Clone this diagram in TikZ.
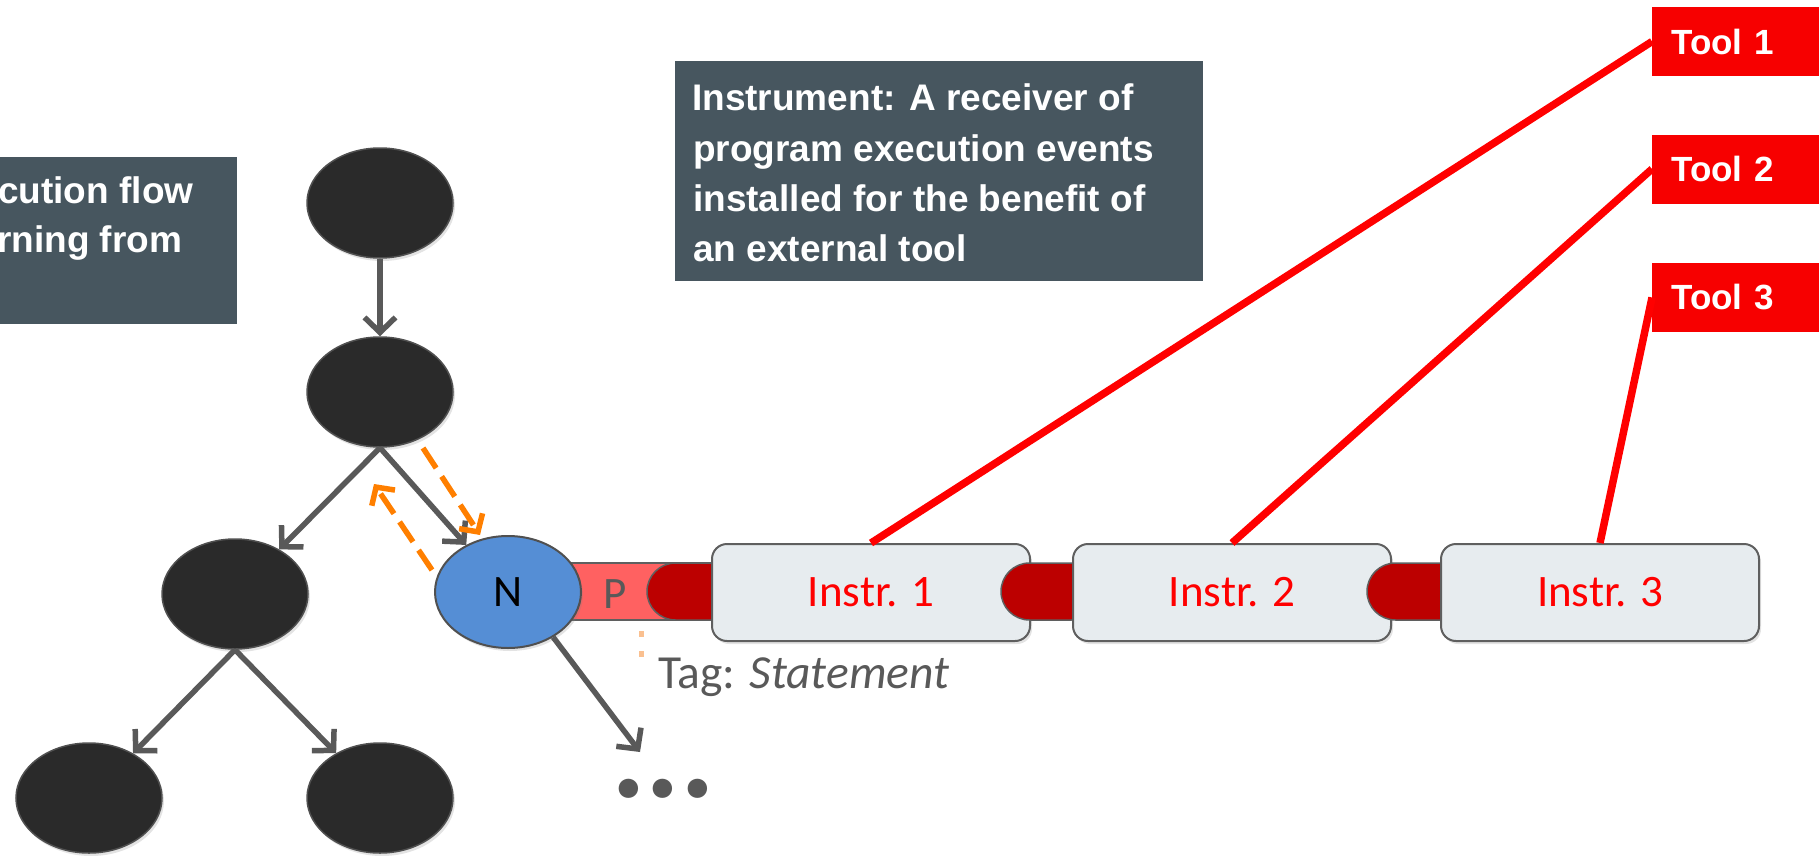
\documentclass[tikz,border=0pt]{standalone}
\usepackage{fontspec}
\setmainfont{Carlito}
\newfontfamily\arialfont{Liberation Sans}
\usetikzlibrary{arrows.meta,shapes.geometric,shadows}
\definecolor{slate}{HTML}{47565F}
\definecolor{nodeblack}{HTML}{2A2A2A}
\definecolor{edgegray}{HTML}{505050}
\definecolor{arrowgray}{HTML}{595959}
\definecolor{orangeA}{HTML}{FF7F00}
\definecolor{orangeL}{HTML}{FAC090}
\definecolor{nblue}{HTML}{558ED5}
\definecolor{pinkbar}{HTML}{FF6161}
\definecolor{plugred}{HTML}{BC0000}
\definecolor{instrfill}{HTML}{E7ECEF}
\definecolor{boxedge}{HTML}{5F5F5F}
\definecolor{toolred}{HTML}{F70000}
\definecolor{linered}{HTML}{FF0000}
\begin{document}
\begin{tikzpicture}[x=1pt,y=-1pt,
  shad/.style={drop shadow={opacity=0.22, shadow xshift=2pt, shadow yshift=-3pt}},
  blk/.style={ellipse, fill=nodeblack, draw=edgegray, line width=1.5pt,
    minimum width=146pt, minimum height=110pt, inner sep=0pt, shad},
  garrow/.style={draw=arrowgray, line width=5.5pt, -{Straight Barb[length=15pt,width=31pt]}},
  oarrow/.style={draw=orangeA, line width=5.5pt, dash pattern=on 24pt off 10pt,
    -{Straight Barb[length=13pt,width=28pt]}},
  darkbox/.style={rectangle, fill=slate, draw=none, inner sep=0pt},
  boxtext/.style={anchor=base west, inner sep=0pt, text=white,
    font=\arialfont\bfseries\fontsize{37}{44}\selectfont},
  toolbox/.style={rectangle, fill=toolred, draw=none, anchor=west,
    minimum height=69pt, text width=129pt, inner xsep=19pt, inner ysep=0pt, align=left,
    text=white, font=\arialfont\bfseries\fontsize{35}{40}\selectfont},
  toolline/.style={draw=linered, line width=7.5pt},
  instr/.style={rectangle, rounded corners=15pt, fill=instrfill, draw=boxedge,
    line width=2pt, minimum width=318pt, minimum height=97pt, inner sep=0pt,
    text=linered, font=\fontsize{45}{54}\selectfont, shad},
  plug/.style={rectangle, rounded corners=28.5pt, fill=plugred, draw=boxedge,
    line width=1.5pt, minimum height=57pt, inner sep=0pt},
  calibri/.style={inner sep=0pt, font=\fontsize{45}{54}\selectfont}
]
\useasboundingbox (0,0) rectangle (1819,856);

% left text box (cut off at the left edge)
\node[darkbox, minimum width=250pt, minimum height=167pt] (lbox) at (112,240.5) {};
\node[boxtext] (l1) at (-2,203) {cution flow};
\node[boxtext] (l2) at (-3,252) {rning from};

% instrument text box
\node[darkbox, minimum width=528pt, minimum height=220pt] (ibox) at (939,171) {};
\node[boxtext] (i1t) at (692,111) {Instrument: A receiver of};
\node[boxtext] (i2t) at (693,161) {program execution events};
\node[boxtext] (i3t) at (693,211) {installed for the benefit of};
\node[boxtext] (i4t) at (693,261) {an external tool};

% tool boxes
\node[toolbox] (t1) at (1652,41.5) {Tool 1};
\node[toolbox] (t2) at (1652,169) {Tool 2};
\node[toolbox] (t3) at (1652,297.5) {Tool 3};

% tree of nodes
\node[blk] (e1) at (380,203) {};
\node[blk] (e2) at (380,392) {};
\node[blk] (e3) at (235,594) {};
\node[blk] (e4) at (89,798) {};
\node[blk] (e5) at (380,798) {};

% pink bar, N, plugs and instruments
\node[rectangle, fill=pinkbar, draw=boxedge, line width=1.5pt, minimum width=165pt,
  minimum height=57pt, inner sep=0pt] (pbar) at (637.5,591.5) {};
\node[calibri, text=arrowgray] (ptext) at (615,594) {P};
\node[ellipse, fill=nblue, draw=edgegray, line width=2pt, minimum width=146pt,
  minimum height=112pt, inner sep=0pt, calibri, shad] (N) at (508,592) {N};

\node[plug, minimum width=93pt] (pl1) at (693.5,591.5) {};
\node[instr] (in1) at (871,592.5) {Instr. 1};
\node[plug, minimum width=99pt] (pl2) at (1050.5,591.5) {};
\node[instr] (in2) at (1232,592.5) {Instr. 2};
\node[plug, minimum width=103pt] (pl3) at (1418.5,591.5) {};
\node[instr] (in3) at (1600,592.5) {Instr. 3};

% ellipsis and tag
\node[inner sep=0pt, anchor=base west, text=arrowgray,
  font=\bfseries\fontsize{130}{130}\selectfont] (dots) at (611,797) {...};
\coordinate (dotsin) at (640,752);
\node[inner sep=0pt, anchor=base west, text=arrowgray,
  font=\fontsize{47.5}{54}\selectfont] (tag) at (658,688) {Tag: \textit{Statement}};
\coordinate (tagA) at (641,631);
\coordinate (tagB) at (641,661);
\draw[draw=orangeL, line width=5pt, dash pattern=on 6pt off 14pt] (tagA) -- (tagB);

% grey arrows
\draw[garrow] (e1) -- (e2);
\draw[garrow] (e2.south) -- (e3);
\draw[garrow] (e2.south) -- (N);
\draw[garrow] (e3.south) -- (e4);
\draw[garrow] (e3.south) -- (e5);
\draw[garrow] (N.-45) -- (dotsin);

% orange dashed arrows
\coordinate (oa1) at (423,448);
\coordinate (oa2) at (480,535);
\coordinate (ob1) at (432,570);
\coordinate (ob2) at (374,484);
\draw[oarrow] (oa1) -- (oa2);
\draw[oarrow] (ob1) -- (ob2);

% tool lines
\draw[toolline] (in1.north) -- (t1.west);
\draw[toolline] (in2.north) -- (t2.west);
\draw[toolline] (in3.north) -- (t3.west);
\end{tikzpicture}
\end{document}
